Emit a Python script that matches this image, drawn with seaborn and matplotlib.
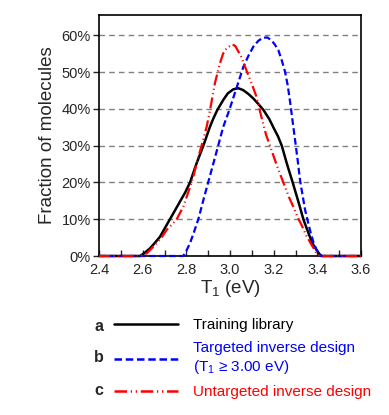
import numpy as np
import pandas as pd
import matplotlib.pyplot as plt
import seaborn as sns
from matplotlib.lines import Line2D
from matplotlib.ticker import PercentFormatter, MultipleLocator

# values (T1 in eV, fraction in %)
train_x = [2.40, 2.50, 2.588, 2.61, 2.634, 2.655, 2.679, 2.70, 2.725, 2.75, 2.771, 2.795, 2.817,
           2.847, 2.878, 2.908, 2.924, 2.942, 2.969, 2.99, 3.015, 3.038, 3.06, 3.085, 3.107, 3.13,
           3.153, 3.18, 3.20, 3.22, 3.237, 3.26, 3.287, 3.313, 3.336, 3.352, 3.366, 3.38, 3.397,
           3.41, 3.42, 3.50, 3.60]
train_y = [0, 0, 0, 0.9, 2.1, 3.5, 5.2, 7.4, 10.0, 12.6, 14.8, 17.3, 20.0,
           25.2, 30.0, 35.1, 37.4, 39.7, 42.4, 44.2, 45.3, 45.6, 45.1, 44.0, 42.8, 41.3,
           39.7, 37.2, 34.8, 32.5, 30.0, 25.2, 20.0, 14.8, 10.0, 7.4, 5.2, 3.2, 1.6,
           0.5, 0, 0, 0]

targ_x = [2.40, 2.60, 2.786, 2.80, 2.817, 2.835, 2.855, 2.878, 2.90, 2.924, 2.946, 2.969, 2.997,
          3.015, 3.04, 3.061, 3.085, 3.107, 3.13, 3.15, 3.171, 3.19, 3.205, 3.221, 3.237, 3.252,
          3.264, 3.275, 3.287, 3.298, 3.31, 3.321, 3.333, 3.344, 3.359, 3.37, 3.382, 3.395,
          3.409, 3.417, 3.60]
targ_y = [0, 0, 0, 1.4, 3.5, 6.5, 10.0, 15.2, 20.0, 25.2, 30.0, 35.1, 39.7,
          43.0, 47.5, 51.4, 54.5, 56.9, 58.5, 59.3, 59.4, 58.6, 57.5, 56.0, 53.2, 50.1,
          46.5, 42.0, 36.5, 31.5, 26.0, 20.5, 16.3, 12.5, 8.8, 6.2, 3.8, 1.8,
          0.6, 0, 0]

untarg_x = [2.40, 2.55, 2.59, 2.618, 2.64, 2.664, 2.69, 2.71, 2.735, 2.756, 2.786, 2.80, 2.817,
            2.832, 2.855, 2.87, 2.893, 2.908, 2.931, 2.954, 2.969, 2.985, 3.00, 3.012, 3.025,
            3.038, 3.05, 3.069, 3.099, 3.12, 3.145, 3.165, 3.183, 3.214, 3.244, 3.27, 3.29,
            3.31, 3.328, 3.35, 3.374, 3.397, 3.41, 3.60]
untarg_y = [0, 0, 0, 0.7, 2.0, 3.5, 5.3, 7.1, 8.6, 10.0, 13.4, 15.8, 18.8,
            21.6, 27.0, 30.0, 35.1, 39.5, 47.0, 52.4, 55.1, 56.5, 57.1, 57.5, 57.0,
            55.6, 54.3, 51.4, 46.9, 43.5, 37.5, 33.0, 30.0, 24.7, 20.0, 16.0, 13.4,
            10.5, 8.4, 5.5, 3.0, 0.7, 0, 0]

labels = ["Training library", "Targeted inverse design\n(T$_1$ \u2265 3.00 eV)", "Untargeted inverse design"]
letters = ["a", "b", "c"]
colors = ["black", "#0000ff", "#ff0000"]
styles = ["-", (0, (3, 1.5)), (0, (5, 1.5, 0.5, 1.5, 0.5, 1.5))]

sns.set_style("white")
plt.rcParams['font.family'] = ['Liberation Sans', 'DejaVu Sans']
plt.rcParams['mathtext.default'] = 'regular'

fig = plt.figure(figsize=(3.89, 4.15), dpi=100)
ax = fig.add_axes([99 / 389, 1 - 256 / 415, (361 - 99) / 389, (256 - 15) / 415])

series = [(train_x, train_y), (targ_x, targ_y), (untarg_x, untarg_y)]
lws = [1.8, 1.6, 1.6]
for (xs, ys), c, ls, lw in zip(series, colors, styles, lws):
    sns.lineplot(x=xs, y=ys, ax=ax, color=c, linestyle=ls, linewidth=lw, clip_on=False, zorder=3)

ax.set_xlim(2.4, 3.6)
ax.set_ylim(0, 65.5)
ax.xaxis.set_major_locator(MultipleLocator(0.2))
ax.xaxis.set_minor_locator(MultipleLocator(0.1))
ax.yaxis.set_major_locator(MultipleLocator(10))
ax.yaxis.set_major_formatter(PercentFormatter(100, decimals=0))
ax.xaxis.set_major_formatter(plt.FormatStrFormatter('%.1f'))
ax.grid(axis='y', color='#808080', linestyle=(0, (4, 3)), linewidth=1.0)
ax.set_axisbelow(True)
for s in ax.spines.values():
    s.set_color('black')
    s.set_linewidth(1.2)
ax.tick_params(axis='x', which='both', direction='in', length=4, width=1, bottom=True,
               labelsize=10.5, pad=5)
ax.tick_params(axis='y', direction='out', length=4, width=1, left=True, labelsize=10.5, pad=2)
ax.set_xlabel("T$_1$ (eV)", fontsize=13.5, labelpad=1)
ax.set_ylabel("Fraction of molecules", fontsize=13.5, labelpad=4)

handles = [Line2D([], [], color=c, linestyle=ls, linewidth=1.8) for c, ls in zip(colors, styles)]
leg = fig.legend(handles, labels, loc='upper left', bbox_to_anchor=(114 / 389, 1 - 318 / 415),
                 frameon=False, fontsize=11, handlelength=4.2, handletextpad=1.0,
                 borderpad=0, borderaxespad=0, labelspacing=0.6)
for t, c in zip(leg.get_texts(), colors):
    t.set_color(c)

for letter, yp in zip(letters, [326, 357, 390]):
    fig.text(99 / 389, 1 - yp / 415, letter, fontsize=11.5, fontweight='bold',
             ha='center', va='center')

fig.savefig("out.png", dpi=100)
